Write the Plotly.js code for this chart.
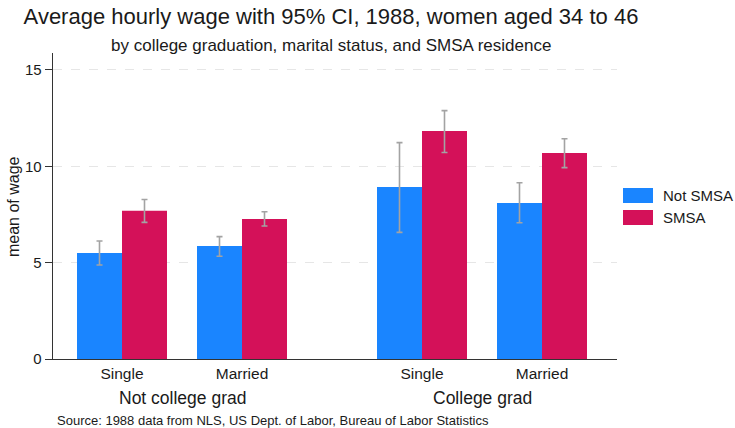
<!DOCTYPE html>
<html>
<head>
<meta charset="utf-8">
<script src="https://cdn.plot.ly/plotly-3.0.1.min.js"></script>
<style>html,body{margin:0;padding:0;background:#fff;}#chart{width:735px;height:428px;}</style>
</head>
<body>
<div id="chart"></div>
<script>
// ---- data ----
const groupLabels = ['Not college grad', 'College grad'];
const maritalLabels = ['Single', 'Married', 'Single', 'Married'];
const seriesNames = ['Not SMSA', 'SMSA'];
const notSmsaMean = [5.50, 5.86, 8.93, 8.10];
const notSmsaLo   = [4.88, 5.33, 6.57, 7.07];
const notSmsaHi   = [6.12, 6.35, 11.23, 9.15];
const smsaMean    = [7.69, 7.27, 11.83, 10.69];
const smsaLo      = [7.09, 6.90, 10.72, 9.93];
const smsaHi      = [8.28, 7.64, 12.89, 11.43];
const yTicks = [0, 5, 10, 15];

// ---- layout helpers ----
const xPos = [0, 1, 2.5, 3.5];
const W = 735, H = 428;
const L = 53, R = 617, T = 53, B = 359;
const pw = R - L, ph = B - T;
const px = v => (v - L) / pw;
const py = v => (B - v) / ph;
const colors = ['#1A85FF', '#D41159'];
const font = 'Liberation Sans, Arial, sans-serif';
const txt = '#1a1a1a';

function errs(mean, lo, hi) {
  return {
    type: 'data', symmetric: false,
    array: hi.map((h, i) => h - mean[i]),
    arrayminus: mean.map((m, i) => m - lo[i]),
    color: '#a3a3a3', thickness: 1.6, width: 3
  };
}

const traces = [
  {type: 'bar', name: seriesNames[0], x: xPos, y: notSmsaMean,
   marker: {color: colors[0], line: {width: 0}},
   error_y: errs(notSmsaMean, notSmsaLo, notSmsaHi), showlegend: false, hoverinfo: 'y'},
  {type: 'bar', name: seriesNames[1], x: xPos, y: smsaMean,
   marker: {color: colors[1], line: {width: 0}},
   error_y: errs(smsaMean, smsaLo, smsaHi), showlegend: false, hoverinfo: 'y'}
];

const annotations = [
  {text: 'by college graduation, marital status, and SMSA residence', xref: 'paper', yref: 'paper',
   x: px(331), y: py(45), xanchor: 'center', yanchor: 'middle', showarrow: false,
   font: {size: 17, color: txt, family: font}},
  {text: 'mean of wage', xref: 'paper', yref: 'paper', x: px(13), y: py(207), textangle: -90,
   xanchor: 'center', yanchor: 'middle', showarrow: false, font: {size: 16, color: txt, family: font}},
  {text: groupLabels[0], xref: 'x', yref: 'paper', x: (xPos[0] + xPos[1]) / 2, y: py(398),
   xanchor: 'center', yanchor: 'middle', showarrow: false, font: {size: 17.5, color: txt, family: font}},
  {text: groupLabels[1], xref: 'x', yref: 'paper', x: (xPos[2] + xPos[3]) / 2, y: py(398),
   xanchor: 'center', yanchor: 'middle', showarrow: false, font: {size: 17.5, color: txt, family: font}},
  {text: 'Source: 1988 data from NLS, US Dept. of Labor, Bureau of Labor Statistics', xref: 'paper', yref: 'paper',
   x: px(55), y: py(420), xanchor: 'left', yanchor: 'middle', showarrow: false,
   font: {size: 13, color: txt, family: font}}
];

// legend (swatches + labels)
const shapes = [];
const swY = [[188, 203], [210, 225]];
seriesNames.forEach((n, i) => {
  shapes.push({type: 'rect', xref: 'paper', yref: 'paper', x0: px(623), x1: px(653),
    y0: py(swY[i][1]), y1: py(swY[i][0]), fillcolor: colors[i], line: {width: 0}});
  annotations.push({text: n, xref: 'paper', yref: 'paper', x: px(661), y: py((swY[i][0] + swY[i][1]) / 2),
    xanchor: 'left', yanchor: 'middle', showarrow: false, font: {size: 15, color: txt, family: font}});
});

const layout = {
  width: W, height: H,
  margin: {l: L, r: W - R, t: T, b: H - B, pad: 0},
  paper_bgcolor: '#fff', plot_bgcolor: '#fff',
  font: {family: font, color: txt},
  title: {text: 'Average hourly wage with 95% CI, 1988, women aged 34 to 46',
    xref: 'container', yref: 'container', x: 331 / W, y: 1 - 16 / H, xanchor: 'center', yanchor: 'middle',
    font: {size: 22, color: txt, family: font}},
  barmode: 'group', bargap: 0.25, bargroupgap: 0,
  xaxis: {range: [(L - 122) / 120, (R - 122) / 120], tickvals: xPos, ticktext: maritalLabels,
    showgrid: false, zeroline: false, showline: true, linecolor: '#333', linewidth: 1.3,
    ticks: '', tickfont: {size: 15.5, color: txt}, fixedrange: true},
  yaxis: {range: [0, (B - T) / 19.27], tickvals: yTicks, ticktext: yTicks.map(String),
    showgrid: true, gridcolor: '#e6e6e6', griddash: 'dash', gridwidth: 1,
    zeroline: false, showline: true, linecolor: '#333', linewidth: 1.3,
    ticks: 'outside', ticklen: 7, tickcolor: '#333', tickfont: {size: 15, color: txt}},
  annotations: annotations,
  shapes: shapes
};

Plotly.newPlot('chart', traces, layout, {displayModeBar: false, staticPlot: true});
</script>
</body>
</html>
